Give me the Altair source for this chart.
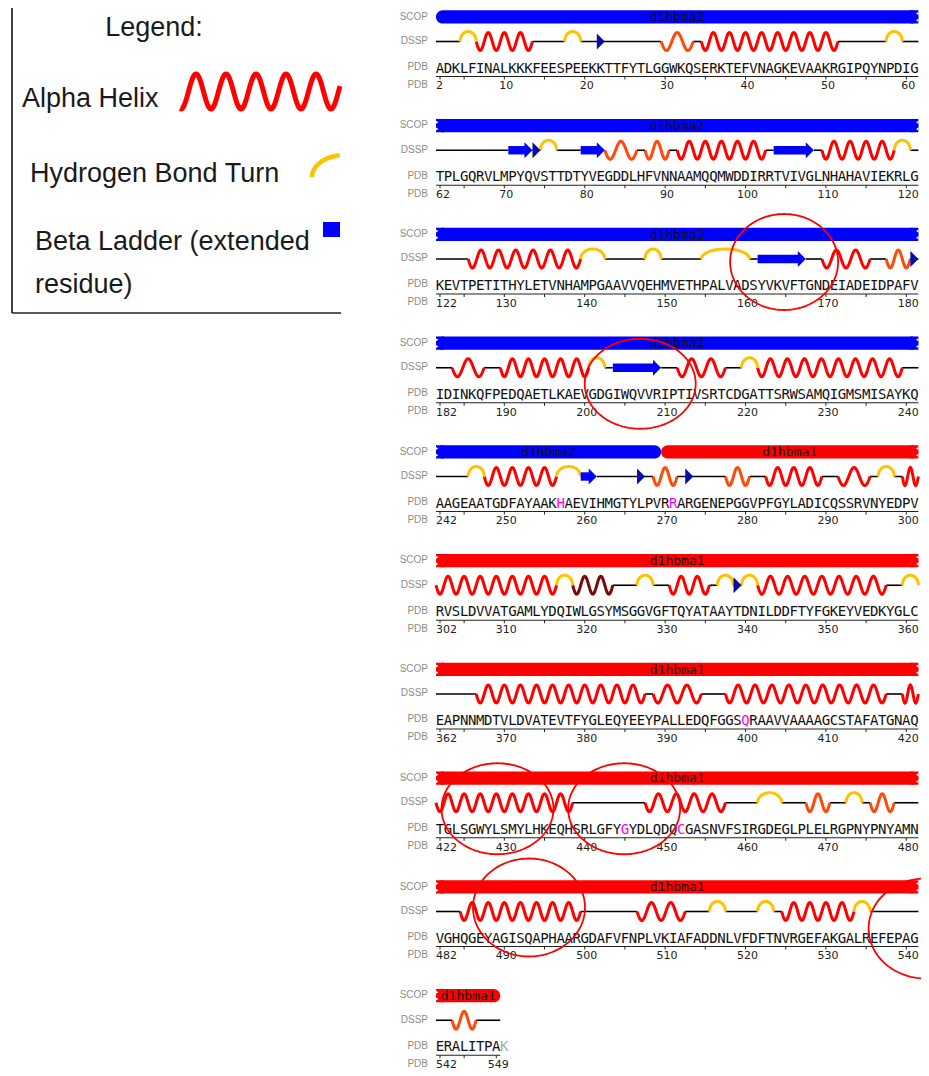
import math
import altair as alt
import pandas as pd

# ---------------- data ----------------
row_starts = [2, 62, 122, 182, 242, 302, 362, 422, 482, 542]
row_sequences = [
    "ADKLFINALKKKFEESPEEKKTTFYTLGGWKQSERKTEFVNAGKEVAAKRGIPQYNPDIG",
    "TPLGQRVLMPYQVSTTDTYVEGDDLHFVNNAAMQQMWDDIRRTVIVGLNHAHAVIEKRLG",
    "KEVTPETITHYLETVNHAMPGAAVVQEHMVETHPALVADSYVKVFTGNDEIADEIDPAFV",
    "IDINKQFPEDQAETLKAEVGDGIWQVVRIPTIVSRTCDGATTSRWSAMQIGMSMISAYKQ",
    "AAGEAATGDFAYAAKHAEVIHMGTYLPVRRARGENEPGGVPFGYLADICQSSRVNYEDPV",
    "RVSLDVVATGAMLYDQIWLGSYMSGGVGFTQYATAAYTDNILDDFTYFGKEYVEDKYGLC",
    "EAPNNMDTVLDVATEVTFYGLEQYEEYPALLEDQFGGSQRAAVVAAAAGCSTAFATGNAQ",
    "TGLSGWYLSMYLHKEQHSRLGFYGYDLQDQCGASNVFSIRGDEGLPLELRGPNYPNYAMN",
    "VGHQGEYAGISQAPHAARGDAFVFNPLVKIAFADDNLVFDFTNVRGEFAKGALREFEPAG",
    "ERALITPAK",
]
chain_last = 549
highlighted_residues = [257, 271, 400, 445, 452]

scop_names = ["d1hbma2", "d1hbma1"]
scop_starts = [2, 270]
scop_ends = [269, 549]
scop_colors = ["#0000ff", "#ff0000"]

helix_alpha = [(7, 13), (35, 51), (92, 102), (110, 118), (126, 139), (170, 175),
               (184, 187), (190, 200), (212, 217), (222, 239), (248, 256), (283, 289),
               (292, 295), (300, 316), (331, 335), (342, 357), (367, 387), (389, 394),
               (398, 417), (420, 438), (448, 457), (485, 499), (507, 512), (525, 533)]
helix_310 = [(30, 33), (83, 86), (88, 90), (178, 180), (269, 271), (278, 280),
             (468, 470), (476, 478), (544, 546)]
helix_pi = [(319, 323)]
turns = [(5, 6), (18, 19), (58, 59), (75, 76), (119, 120), (140, 142), (148, 149),
         (155, 160), (201, 202), (220, 221), (246, 247), (257, 259), (297, 298),
         (317, 318), (327, 328), (337, 338), (340, 341), (360, 361), (462, 464),
         (473, 474), (516, 517), (522, 523), (534, 535)]
strands = [(71, 73), (80, 82), (104, 108), (162, 167), (204, 209), (260, 261)]
bridges = [22, 74, 181, 267, 273, 339]

# hand-drawn red ellipses: (row, centre column, vertical offset px, rx px, ry px)
circled = [(2, 42.8, 3, 54, 48), (3, 24.9, 16, 55.5, 45), (7, 7.15, 6, 56, 45.5),
           (7, 22.9, 6, 56, 45.5), (8, 11.07, -4, 56, 49), (8, 60.4, 17, 57, 50)]

legend_title = "Legend:"
legend_labels = ["Alpha Helix", "Hydrogen Bond Turn", "Beta Ladder (extended", "residue)"]

# ---------------- layout ----------------
X_PER, Y_PER = 8.04, 108.75
W, H = 913, 1060
X0, Y0 = 432.0, 33.5
xs = alt.Scale(domain=[-X0 / X_PER, (W - X0) / X_PER], nice=False, zero=False)
ys = alt.Scale(domain=[-Y0 / Y_PER, (H - Y0) / Y_PER], nice=False, zero=False, reverse=True)

COL_H = "#ff0000"
COL_G = "#ff4a0a"
COL_I = "#7a0a0a"
COL_T = "#ffc200"
COL_E = "#0000ff"
COL_B = "#0a0aa8"
MONO = "DejaVu Sans Mono"
SANS = "Liberation Sans"


def dy(px):
    return px / Y_PER


def dx(px):
    return px / X_PER


def PX(px):
    return (px - 8 - X0) / X_PER


def PY(py):
    return (py - 8 - Y0) / Y_PER


def X(f="x"):
    return alt.X(f"{f}:Q", scale=xs, axis=None)


def Y(f="y"):
    return alt.Y(f"{f}:Q", scale=ys, axis=None)


def row_len(r):
    return len(row_sequences[r])


def split(a, b):
    out = []
    for r, s in enumerate(row_starts):
        e = s + row_len(r) - 1
        lo, hi = max(a, s), min(b, e)
        if lo <= hi:
            out.append((r, lo - s, hi - s))
    return out


def locate(res):
    for r, s in enumerate(row_starts):
        if s <= res < s + row_len(r):
            return r, res - s
    return None


# ---------------- build tables ----------------
line_pts = []
seg_id = 0
for segs, col in [(helix_alpha, COL_H), (helix_310, COL_G), (helix_pi, COL_I)]:
    for a, b in segs:
        for r, ca, cb in split(a, b):
            L = cb - ca + 1
            n = max(1, int(L / 2 - 0.5))
            P = L / (n + 0.5)
            N = max(30, L * 14)
            for k in range(N + 1):
                t = L * k / N
                line_pts.append(dict(seg=seg_id, i=k, x=ca - 0.5 + t,
                                     y=r + dy(9 * math.sin(2 * math.pi * t / P)), c=col))
            seg_id += 1
for a, b in turns:
    for r, ca, cb in split(a, b):
        L = cb - ca + 1
        for k in range(41):
            th = math.pi * k / 40
            line_pts.append(dict(seg=seg_id, i=k, x=ca - 0.5 + L * (1 - math.cos(th)) / 2,
                                 y=r - dy(10 * math.sin(th)), c=COL_T))
        seg_id += 1
lines_df = pd.DataFrame(line_pts)

covered = set()
for segs in [helix_alpha, helix_310, helix_pi, turns, strands]:
    for a, b in segs:
        covered.update(range(a, b + 1))

coil = []
for r, s in enumerate(row_starts):
    e = min(s + row_len(r) - 1, chain_last)
    run = None
    for res in range(s, e + 1):
        if res not in covered:
            if run is None:
                run = [res, res]
            else:
                run[1] = res
        else:
            if run:
                coil.append(dict(x=run[0] - s - 0.5, x2=run[1] - s + 0.5, y=r))
            run = None
    if run:
        coil.append(dict(x=run[0] - s - 0.5, x2=run[1] - s + 0.5, y=r))
coil_df = pd.DataFrame(coil)

body, heads = [], []
for a, b in strands:
    for r, ca, cb in split(a, b):
        body.append(dict(x=ca - 0.5, x2=cb - 0.5 + dx(0.5), y=r - dy(4.2), y2=r + dy(4.2)))
        heads.append(dict(x=cb, y=r, c=COL_E))
for res in bridges:
    r, c = locate(res)
    heads.append(dict(x=c, y=r, c=COL_B))
body_df, heads_df = pd.DataFrame(body), pd.DataFrame(heads)

bars, patches, notches, scop_txt = [], [], [], []
for name, ds, de, colr in zip(scop_names, scop_starts, scop_ends, scop_colors):
    for r, ca, cb in split(ds, de):
        s = row_starts[r]
        y_a, y_b = r - dy(31.3), r - dy(18.0)
        bars.append(dict(x=ca - 0.5, x2=cb + 0.5, y=y_a, y2=y_b, c=colr))
        scop_txt.append(dict(x=(ca + cb) / 2, y=r - dy(24.3), t=name))
        if ca + s != ds:
            patches.append(dict(x=ca - 0.5, x2=ca - 0.5 + dx(8), y=y_a, y2=y_b, c=colr))
            for o in (-3.3, 3.3):
                notches.append(dict(x=ca - 0.5 + dx(1.2), y=r - dy(24.65 - o), side="L"))
        if cb + s != de:
            patches.append(dict(x=cb + 0.5 - dx(8), x2=cb + 0.5, y=y_a, y2=y_b, c=colr))
            for o in (-3.3, 3.3):
                notches.append(dict(x=cb + 0.5 - dx(1.2), y=r - dy(24.65 - o), side="R"))
bars_df, patches_df = pd.DataFrame(bars), pd.DataFrame(patches)
notch_df, scop_df = pd.DataFrame(notches), pd.DataFrame(scop_txt)

letters, ticks, lab_first, lab_other, axis_lines, side_labels = [], [], [], [], [], []
for r, (s, seq) in enumerate(zip(row_starts, row_sequences)):
    for c, ch in enumerate(seq):
        res = s + c
        colr = "#111111"
        if res in highlighted_residues:
            colr = "#ff00ff"
        if res > chain_last:
            colr = "#aaaaaa"
        letters.append(dict(x=c, y=r + dy(31), t=ch, c=colr))
    last = min(s + len(seq) - 1, chain_last)
    axis_lines.append(dict(x=-0.5, x2=last - s + 0.5, y=r + dy(35)))
    for res in range(s, last + 1):
        c = res - s
        if c == 0 or res % 5 == 0 or res == chain_last:
            ticks.append(dict(x=c, y=r + dy(35), y2=r + dy(38)))
        if c == 0:
            lab_first.append(dict(x=-0.5, y=r + dy(47.8), t=str(res)))
        elif res % 10 == 0 or res == chain_last:
            lab_other.append(dict(x=c + dx(2), y=r + dy(47.8), t=str(res)))
    for t, off in [("SCOP", -25), ("DSSP", -0.7), ("PDB", 25.3), ("PDB", 43.3)]:
        side_labels.append(dict(x=PX(428), y=r + dy(off), t=t))

ell = []
for k, (r, c, off, rx, ry) in enumerate(circled):
    for j in range(121):
        th = 2 * math.pi * j / 120
        ell.append(dict(seg=k, i=j, x=c + dx(rx * math.cos(th)), y=r + dy(off + ry * math.sin(th))))
ell_df = pd.DataFrame(ell)

# legend pieces (page pixel layout)
leg_box = pd.DataFrame([
    dict(x=PX(12), x2=PX(341), y=PY(5.5), y2=PY(5.5)),
    dict(x=PX(12), x2=PX(12), y=PY(5.5), y2=PY(313)),
    dict(x=PX(12), x2=PX(341), y=PY(313), y2=PY(313)),
])
leg_text = pd.DataFrame([
    dict(x=PX(154), y=PY(36), t=legend_title, a="c"),
    dict(x=PX(22), y=PY(107), t=legend_labels[0], a="l"),
    dict(x=PX(30), y=PY(182), t=legend_labels[1], a="l"),
    dict(x=PX(35), y=PY(250), t=legend_labels[2], a="l"),
    dict(x=PX(35), y=PY(293), t=legend_labels[3], a="l"),
])
leg_wave = []
xp = 180.0
i = 0
while xp <= 340.0:
    leg_wave.append(dict(i=i, x=PX(xp), y=PY(91.5 - 17.5 * math.cos(2 * math.pi * (xp - 196) / 30))))
    xp += 0.5
    i += 1
leg_wave_df = pd.DataFrame(leg_wave)
leg_turn = []
for j in range(60):
    th = math.pi - (math.pi / 2) * j / 59
    xp = 345 + 33 * math.cos(th)
    if xp <= 340:
        leg_turn.append(dict(i=j, x=PX(xp), y=PY(177 - 22 * math.sin(th))))
leg_turn_df = pd.DataFrame(leg_turn)
leg_sq = pd.DataFrame([dict(x=PX(323), x2=PX(340), y=PY(222), y2=PY(237))])

# ---------------- layers ----------------
layers = []
layers.append(alt.Chart(leg_box).mark_rule(color="#222222", strokeWidth=1.7).encode(
    x=X(), x2="x2:Q", y=Y(), y2="y2:Q"))
layers.append(alt.Chart(leg_text[leg_text.a == "c"]).mark_text(
    font=SANS, fontSize=27, align="center", baseline="alphabetic", color="#1a1a1a").encode(
    x=X(), y=Y(), text="t:N"))
layers.append(alt.Chart(leg_text[leg_text.a == "l"]).mark_text(
    font=SANS, fontSize=27, align="left", baseline="alphabetic", color="#1a1a1a").encode(
    x=X(), y=Y(), text="t:N"))
layers.append(alt.Chart(leg_wave_df).mark_line(color=COL_H, strokeWidth=5).encode(
    x=X(), y=Y(), order="i:Q"))
layers.append(alt.Chart(leg_turn_df).mark_line(color=COL_T, strokeWidth=4.5).encode(
    x=X(), y=Y(), order="i:Q"))
layers.append(alt.Chart(leg_sq).mark_rect(color=COL_E).encode(
    x=X(), x2="x2:Q", y=Y(), y2="y2:Q"))

layers.append(alt.Chart(pd.DataFrame(side_labels)).mark_text(
    font=SANS, fontSize=10, align="right", baseline="middle", color="#8c8c8c").encode(
    x=X(), y=Y(), text="t:N"))

layers.append(alt.Chart(bars_df).mark_rect(cornerRadius=6.6).encode(
    x=X(), x2="x2:Q", y=Y(), y2="y2:Q", color=alt.Color("c:N", scale=None)))
layers.append(alt.Chart(patches_df).mark_rect().encode(
    x=X(), x2="x2:Q", y=Y(), y2="y2:Q", color=alt.Color("c:N", scale=None)))
layers.append(alt.Chart(notch_df[notch_df.side == "R"]).mark_point(
    shape="M 0.8 -1 L -0.8 0 L 0.8 1 Z", filled=True, size=9, color="white", opacity=1,
    strokeWidth=0).encode(x=X(), y=Y()))
layers.append(alt.Chart(notch_df[notch_df.side == "L"]).mark_point(
    shape="M -0.8 -1 L 0.8 0 L -0.8 1 Z", filled=True, size=9, color="white", opacity=1,
    strokeWidth=0).encode(x=X(), y=Y()))
layers.append(alt.Chart(scop_df).mark_text(
    font=MONO, fontSize=13, align="center", baseline="middle", color="#111111").encode(
    x=X(), y=Y(), text="t:N"))

layers.append(alt.Chart(coil_df).mark_rule(color="#000000", strokeWidth=1.6).encode(
    x=X(), x2="x2:Q", y=Y()))
layers.append(alt.Chart(lines_df).mark_line(strokeWidth=3).encode(
    x=X(), y=Y(), detail="seg:N", order="i:Q", color=alt.Color("c:N", scale=None)))
layers.append(alt.Chart(body_df).mark_rect(color=COL_E).encode(
    x=X(), x2="x2:Q", y=Y(), y2="y2:Q"))
layers.append(alt.Chart(heads_df).mark_point(
    shape="M -0.5 -1 L 0.5 0 L -0.5 1 Z", filled=True, size=256, opacity=1,
    strokeWidth=0).encode(x=X(), y=Y(), color=alt.Color("c:N", scale=None)))

layers.append(alt.Chart(pd.DataFrame(letters)).mark_text(
    font=MONO, fontSize=14, align="center", baseline="alphabetic").encode(
    x=X(), y=Y(), text="t:N", color=alt.Color("c:N", scale=None)))
layers.append(alt.Chart(pd.DataFrame(axis_lines)).mark_rule(color="#222222", strokeWidth=1.2).encode(
    x=X(), x2="x2:Q", y=Y()))
layers.append(alt.Chart(pd.DataFrame(ticks)).mark_rule(color="#222222", strokeWidth=1).encode(
    x=X(), y=Y(), y2="y2:Q"))
layers.append(alt.Chart(pd.DataFrame(lab_first)).mark_text(
    font="DejaVu Sans", fontSize=11, align="left", baseline="alphabetic", color="#222222").encode(
    x=X(), y=Y(), text="t:N"))
layers.append(alt.Chart(pd.DataFrame(lab_other)).mark_text(
    font="DejaVu Sans", fontSize=11, align="center", baseline="alphabetic", color="#222222").encode(
    x=X(), y=Y(), text="t:N"))

layers.append(alt.Chart(ell_df).mark_line(color="#ff0000", strokeWidth=1.8).encode(
    x=X(), y=Y(), detail="seg:N", order="i:Q"))

chart = alt.layer(*layers).properties(
    width=W, height=H, padding=0,
    autosize=alt.AutoSizeParams(type="none", contains="padding"),
).configure_view(stroke=None)

chart.save("out.html", embed_options={"renderer": "svg", "actions": False})
